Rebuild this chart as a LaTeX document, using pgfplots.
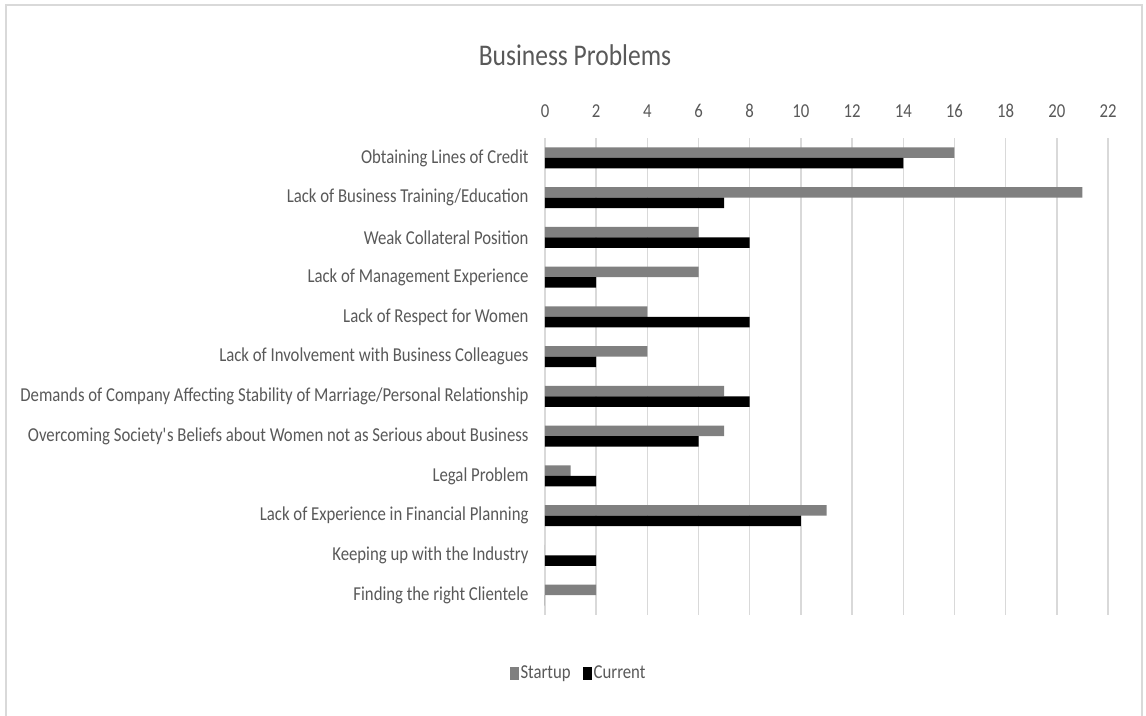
\documentclass[border=0pt]{standalone}
\usepackage{pgfplots}
\pgfplotsset{compat=1.18}
\usepackage{fontspec}
\setmainfont{Carlito}[FakeStretch=0.85]
\definecolor{txt}{HTML}{595959}
\definecolor{gridc}{HTML}{D9D9D9}
\definecolor{startup}{HTML}{808080}
\begin{document}
\begin{tikzpicture}[x=1pt,y=1pt]
\useasboundingbox (0,0) rectangle (1146,715);
\fill[white] (0,0) rectangle (1146,715);
\draw[gridc, line width=2pt] (6,-5) rectangle (1142,710);
\node[txt, font=\fontsize{30}{34}\selectfont] at (575,660) {Business Problems};
\begin{axis}[
  at={(545pt,100pt)}, anchor=south west, scale only axis,
  width=563pt, height=477pt,
  xbar, bar width=10.5pt,
  xmin=0, xmax=22, ymin=-0.5, ymax=11.5,
  axis line style={draw=none},
  tick style={draw=none},
  xtick={0,2,...,22},
  xticklabel pos=upper,
  /pgf/number format/assume math mode=true,
  xmajorgrids, grid style={gridc, line width=1.5pt},
  xticklabel style={anchor=south, inner sep=0pt, yshift=20pt, text=txt},
  ytick={0,...,11},
  yticklabels={Finding the right Clientele,
    Keeping up with the Industry,
    Lack of Experience in Financial Planning,
    Legal Problem,
    Overcoming Society\textquotesingle s Beliefs about Women not as Serious about Business,
    Demands of Company Affecting Stability of Marriage/Personal Relationship,
    Lack of Involvement with Business Colleagues,
    Lack of Respect for Women,
    Lack of Management Experience,
    Weak Collateral Position,
    Lack of Business Training/Education,
    Obtaining Lines of Credit},
  yticklabel style={anchor=east, inner sep=0pt, xshift=-12pt, text=txt},
  ticklabel style={font=\fontsize{19.7}{22}\selectfont},
  legend style={at={(axis description cs:0.0595,-0.1216)}, anchor=center,
    draw=none, fill=none, legend columns=2, text=txt,
    font=\fontsize{19.7}{22}\selectfont,
    /tikz/every even column/.append style={column sep=10pt}},
  legend image code/.code={\fill[#1] (0pt,-6.5pt) rectangle (9pt,6.5pt);},
]
\addplot[fill=startup, draw=none, bar shift=5.25pt] coordinates {
  (16,11) (21,10) (6,9) (6,8) (4,7) (4,6) (7,5) (7,4) (1,3) (11,2) (0,1) (2,0)};
\addlegendentry{Startup}
\addplot[fill=black, draw=none, bar shift=-5.25pt] coordinates {
  (14,11) (7,10) (8,9) (2,8) (8,7) (2,6) (8,5) (6,4) (2,3) (10,2) (2,1) (0,0)};
\addlegendentry{Current}
\end{axis}
\end{tikzpicture}
\end{document}
